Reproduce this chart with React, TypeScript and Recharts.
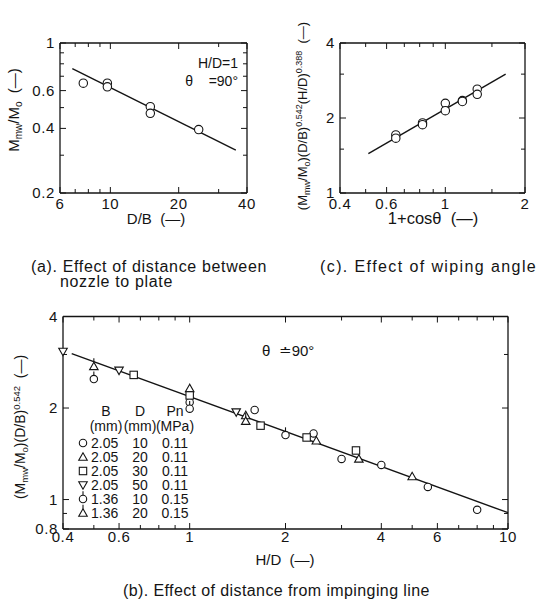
import React from "react";
import { ReferenceLine, Scatter, ScatterChart, XAxis, YAxis } from "recharts";

const FONT = '"Liberation Sans", Arial, Helvetica, sans-serif';
const INK = "#141414";

// (a) effect of D/B  (H/D = 1, theta = 90 deg)
const dbA = [7.6, 9.7, 9.7, 15, 15, 24.5];
const massA = [0.65, 0.65, 0.625, 0.505, 0.47, 0.395];
const fitDbA = [6.8, 35.7];
const fitMassA = [0.76, 0.317];
const xTicksA = [6, 7, 8, 9, 10, 20, 30, 40];
const xLabelsA = [6, 10, 20, 40];
const yTicksA = [0.2, 0.3, 0.4, 0.5, 0.6, 0.7, 0.8, 0.9, 1];
const yLabelsA = [0.2, 0.4, 0.6, 1];

// (c) effect of wiping angle
const cosC = [0.65, 0.65, 0.82, 0.82, 1.0, 1.0, 1.16, 1.16, 1.32, 1.32];
const groupC = [1.71, 1.66, 1.91, 1.88, 2.29, 2.14, 2.35, 2.33, 2.61, 2.49];
const fitCosC = [0.512, 1.69];
const fitGroupC = [1.44, 3.0];
const xTicksC = [0.4, 0.5, 0.6, 0.7, 0.8, 0.9, 1, 1.5, 2];
const xLabelsC = [0.4, 0.6, 1, 2];
const yTicksC = [1, 1.5, 2, 3, 4];
const yLabelsC = [1, 2, 4];

// (b) effect of H/D, one list per nozzle condition
const hdB1 = [1.0, 1.6, 2.45, 3.0, 4.0, 5.6, 8.0];
const yB1 = [2.09, 1.97, 1.65, 1.36, 1.3, 1.1, 0.925];
const hdB2 = [1.0, 1.5, 2.5, 3.4, 5.0];
const yB2 = [2.32, 1.89, 1.56, 1.36, 1.19];
const hdB3 = [0.667, 1.0, 1.67, 2.33, 3.33];
const yB3 = [2.57, 2.2, 1.75, 1.6, 1.45];
const hdB4 = [0.4, 0.6, 1.4];
const yB4 = [3.07, 2.66, 1.94];
const hdB5 = [0.5, 1.0, 2.0];
const yB5 = [2.49, 1.99, 1.63];
const hdB6 = [0.5, 1.5];
const yB6 = [2.74, 1.81];
const fitHdB = [0.426, 10];
const fitYB = [3.02, 0.905];
const legendB = ["2.05", "2.05", "2.05", "2.05", "1.36", "1.36"];
const legendD = ["10", "20", "30", "50", "10", "20"];
const legendPn = ["0.11", "0.11", "0.11", "0.11", "0.15", "0.15"];
const xTicksB = [0.4, 0.5, 0.6, 0.7, 0.8, 0.9, 1, 2, 3, 4, 5, 6, 7, 8, 9, 10];
const xLabelsB = [0.4, 0.6, 1, 2, 4, 6, 10];
const yTicksB = [0.8, 0.9, 1, 2, 3, 4];
const yLabelsB = [0.8, 1, 2, 4];

type MarkKind = "circle" | "triangle" | "square" | "triangleDown" | "circleTick" | "triangleTick";
const marksB: MarkKind[] = ["circle", "triangle", "square", "triangleDown", "circleTick", "triangleTick"];

const zip = (xs: number[], ys: number[]) => xs.map((x, i) => ({ x, y: ys[i] }));

const seriesB = [
  zip(hdB1, yB1),
  zip(hdB2, yB2),
  zip(hdB3, yB3),
  zip(hdB4, yB4),
  zip(hdB5, yB5),
  zip(hdB6, yB6),
];

const Marker = ({ kind, cx, cy, r }: { kind: MarkKind; cx: number; cy: number; r: number }) => {
  const base = { fill: "#fff", stroke: INK, strokeWidth: 1.1 };
  const h = r * 1.15;
  const up = `${cx},${cy - h} ${cx - h},${cy + h * 0.75} ${cx + h},${cy + h * 0.75}`;
  switch (kind) {
    case "circle":
      return <circle cx={cx} cy={cy} r={r} {...base} />;
    case "circleTick":
      return (
        <g>
          <line x1={cx} y1={cy - r} x2={cx} y2={cy - r - 4} stroke={INK} strokeWidth={1.1} />
          <circle cx={cx} cy={cy} r={r} {...base} />
        </g>
      );
    case "triangle":
      return <polygon points={up} {...base} />;
    case "triangleTick":
      return (
        <g>
          <line x1={cx} y1={cy - h} x2={cx} y2={cy - h - 4} stroke={INK} strokeWidth={1.1} />
          <polygon points={up} {...base} />
        </g>
      );
    case "triangleDown":
      return <polygon points={`${cx},${cy + h} ${cx - h},${cy - h * 0.75} ${cx + h},${cy - h * 0.75}`} {...base} />;
    default:
      return <rect x={cx - r} y={cy - r} width={r * 2} height={r * 2} {...base} />;
  }
};

type Side = "bottom" | "top" | "left" | "right";

const makeTick = (side: Side, labels: number[], showText: boolean, gap: number) => (props: any) => {
  const { x, y, payload } = props;
  const v = payload.value as number;
  const major = labels.includes(v);
  const len = major ? 6 : 4;
  let x2 = x;
  let y2 = y;
  if (side === "bottom") y2 = y - len;
  if (side === "top") y2 = y + len;
  if (side === "left") x2 = x + len;
  if (side === "right") x2 = x - len;
  return (
    <g>
      <line x1={x} y1={y} x2={x2} y2={y2} stroke={INK} strokeWidth={1} />
      {showText && major && side === "bottom" && (
        <text x={x} y={y + gap} textAnchor="middle" fontSize={15} letterSpacing={0.6} fill={INK} fontFamily={FONT}>
          {v}
        </text>
      )}
      {showText && major && side === "left" && (
        <text x={x - 5} y={y + 5} textAnchor="end" fontSize={15} letterSpacing={0.6} fill={INK} fontFamily={FONT}>
          {v}
        </text>
      )}
    </g>
  );
};

const frameLine = { stroke: INK, strokeWidth: 1.3 };

const frame = (
  xDomain: [number, number],
  yDomain: [number, number],
  xTicks: number[],
  xLabels: number[],
  yTicks: number[],
  yLabels: number[],
  gap: number,
  xTitle: (p: any) => React.ReactNode,
  yTitle: (p: any) => React.ReactNode
) => [
  <XAxis
    key="xb"
    xAxisId="b"
    orientation="bottom"
    type="number"
    dataKey="x"
    scale="log"
    domain={xDomain}
    ticks={xTicks}
    interval={0}
    height={10}
    tickSize={0}
    tickMargin={0}
    tickLine={false}
    axisLine={frameLine}
    tick={makeTick("bottom", xLabels, true, gap)}
    label={xTitle}
  />,
  <XAxis
    key="xt"
    xAxisId="t"
    orientation="top"
    type="number"
    dataKey="x"
    scale="log"
    domain={xDomain}
    allowDataOverflow
    ticks={xTicks}
    interval={0}
    height={10}
    tickSize={0}
    tickMargin={0}
    tickLine={false}
    axisLine={frameLine}
    tick={makeTick("top", xLabels, false, 0)}
  />,
  <YAxis
    key="yl"
    yAxisId="l"
    orientation="left"
    type="number"
    dataKey="y"
    scale="log"
    domain={yDomain}
    ticks={yTicks}
    interval={0}
    width={10}
    tickSize={0}
    tickMargin={0}
    tickLine={false}
    axisLine={frameLine}
    tick={makeTick("left", yLabels, true, 0)}
    label={yTitle}
  />,
  <YAxis
    key="yr"
    yAxisId="r"
    orientation="right"
    type="number"
    dataKey="y"
    scale="log"
    domain={yDomain}
    allowDataOverflow
    ticks={yTicks}
    interval={0}
    width={10}
    tickSize={0}
    tickMargin={0}
    tickLine={false}
    axisLine={frameLine}
    tick={makeTick("right", yLabels, false, 0)}
  />,
];

const txt = { fill: INK, fontFamily: FONT } as const;
const NB = "\u00a0\u00a0";

const caption = (left: number, top: number, spacing: number): React.CSSProperties => ({
  position: "absolute",
  left,
  top,
  fontSize: 16,
  lineHeight: "16px",
  letterSpacing: spacing,
  whiteSpace: "nowrap",
});

const App: React.FC = () => {
  return (
    <div
      style={{
        position: "absolute",
        left: 0,
        top: 0,
        width: 540,
        height: 601,
        background: "#fff",
        fontFamily: FONT,
        color: INK,
        overflow: "hidden",
      }}
    >
      {/* (a) */}
      <div style={{ position: "absolute", left: 0, top: 0 }}>
        <ScatterChart width={280} height={235} margin={{ top: 33, right: 23, bottom: 32, left: 50 }}>
          {frame(
            [6, 40],
            [0.2, 1],
            xTicksA,
            xLabelsA,
            yTicksA,
            yLabelsA,
            16,
            () => (
              <text x={156} y={224} textAnchor="middle" fontSize={15} {...txt}>
                D/B{NB}(—)
              </text>
            ),
            () => (
              <text transform="translate(19,110) rotate(-90)" textAnchor="middle" fontSize={15} {...txt}>
                M<tspan fontSize={10} dy={3}>mw</tspan>
                <tspan dy={-3}>/M</tspan>
                <tspan fontSize={10} dy={3}>o</tspan>
                <tspan dy={-3}>{NB}(—)</tspan>
              </text>
            )
          )}
          <ReferenceLine
            xAxisId="b"
            yAxisId="l"
            segment={zip(fitDbA, fitMassA)}
            stroke={INK}
            strokeWidth={1.4}
          />
          <Scatter
            xAxisId="b"
            yAxisId="l"
            data={zip(dbA, massA)}
            isAnimationActive={false}
            shape={(p: any) => <Marker kind="circle" cx={p.cx} cy={p.cy} r={4.2} />}
          />
        </ScatterChart>
      </div>

      {/* (c) */}
      <div style={{ position: "absolute", left: 280, top: 0 }}>
        <ScatterChart width={260} height={235} margin={{ top: 33, right: 5, bottom: 32, left: 50 }}>
          {frame(
            [0.4, 2],
            [1, 4],
            xTicksC,
            xLabelsC,
            yTicksC,
            yLabelsC,
            16,
            () => (
              <text x={153} y={224} textAnchor="middle" fontSize={16.5} {...txt}>
                1+cosθ{NB}(—)
              </text>
            ),
            () => (
              <text transform="translate(27,116) rotate(-90)" textAnchor="middle" fontSize={13} {...txt}>
                (M<tspan fontSize={9} dy={3}>mw</tspan>
                <tspan dy={-3}>/M</tspan>
                <tspan fontSize={9} dy={3}>o</tspan>
                <tspan dy={-3}>)(D/B)</tspan>
                <tspan fontSize={9} dy={-5}>0.542</tspan>
                <tspan dy={5}>(H/D)</tspan>
                <tspan fontSize={9} dy={-5}>0.388</tspan>
                <tspan dy={5}>{NB}(—)</tspan>
              </text>
            )
          )}
          <ReferenceLine
            xAxisId="b"
            yAxisId="l"
            segment={zip(fitCosC, fitGroupC)}
            stroke={INK}
            strokeWidth={1.4}
          />
          <Scatter
            xAxisId="b"
            yAxisId="l"
            data={zip(cosC, groupC)}
            isAnimationActive={false}
            shape={(p: any) => <Marker kind="circle" cx={p.cx} cy={p.cy} r={4.2} />}
          />
        </ScatterChart>
      </div>

      {/* (b) */}
      <div style={{ position: "absolute", left: 0, top: 300 }}>
        <ScatterChart width={540} height={270} margin={{ top: 6.5, right: 22, bottom: 31, left: 53 }}>
          {frame(
            [0.4, 10],
            [0.8, 4],
            xTicksB,
            xLabelsB,
            yTicksB,
            yLabelsB,
            13,
            () => (
              <text x={285} y={265} textAnchor="middle" fontSize={15} {...txt}>
                H/D{NB}(—)
              </text>
            ),
            () => (
              <text transform="translate(25,127) rotate(-90)" textAnchor="middle" fontSize={14} {...txt}>
                (M<tspan fontSize={9.5} dy={3}>mw</tspan>
                <tspan dy={-3}>/M</tspan>
                <tspan fontSize={9.5} dy={3}>o</tspan>
                <tspan dy={-3}>)(D/B)</tspan>
                <tspan fontSize={9.5} dy={-5}>0.542</tspan>
                <tspan dy={5}>{NB}(—)</tspan>
              </text>
            )
          )}
          <ReferenceLine
            xAxisId="b"
            yAxisId="l"
            segment={zip(fitHdB, fitYB)}
            stroke={INK}
            strokeWidth={1.4}
          />
          {seriesB.map((data, i) => (
            <Scatter
              key={i}
              name={`${legendB[i]} ${legendD[i]} ${legendPn[i]}`}
              xAxisId="b"
              yAxisId="l"
              data={data}
              isAnimationActive={false}
              shape={(p: any) => <Marker kind={marksB[i]} cx={p.cx} cy={p.cy} r={3.7} />}
            />
          ))}
        </ScatterChart>
      </div>

      {/* in-plot notes */}
      <svg style={{ position: "absolute", left: 0, top: 0 }} width={540} height={601} pointerEvents="none">
        <text x={238} y={68} textAnchor="end" fontSize={14} {...txt}>
          H/D=1
        </text>
        <text x={238} y={86} textAnchor="end" fontSize={14} {...txt}>
          θ{"\u00a0\u00a0\u00a0\u00a0"}=90°
        </text>
        <text x={262} y={356} fontSize={15} {...txt}>
          θ{NB}≐90°
        </text>

        {/* legend of (b) */}
        <g fontSize={14} {...txt}>
          <text x={106} y={416} textAnchor="middle">B</text>
          <text x={140} y={416} textAnchor="middle">D</text>
          <text x={175} y={416} textAnchor="middle">Pn</text>
          <text x={106} y={431} textAnchor="middle">(mm)</text>
          <text x={140} y={431} textAnchor="middle">(mm)</text>
          <text x={175} y={431} textAnchor="middle">(MPa)</text>
          {marksB.map((m, i) => {
            const cy = 443 + i * 14;
            return (
              <g key={m}>
                <Marker kind={m} cx={83} cy={cy} r={3.7} />
                <text x={91} y={cy + 5}>{legendB[i]}</text>
                <text x={140} y={cy + 5} textAnchor="middle">{legendD[i]}</text>
                <text x={175} y={cy + 5} textAnchor="middle">{legendPn[i]}</text>
              </g>
            );
          })}
        </g>
      </svg>

      {/* captions */}
      <div style={caption(31, 259, 0.65)}>(a). Effect of distance between</div>
      <div style={caption(60, 274, 0.65)}>nozzle to plate</div>
      <div style={caption(320, 259, 1.4)}>(c). Effect of wiping angle</div>
      <div style={caption(123, 583, 0.4)}>(b). Effect of distance from impinging line</div>
    </div>
  );
};

export default App;
